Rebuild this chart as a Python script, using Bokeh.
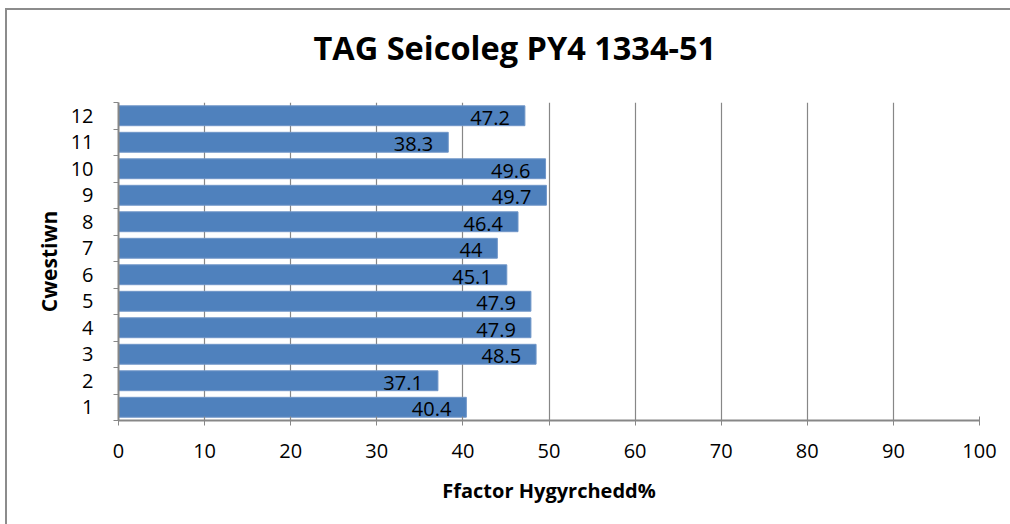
from bokeh.plotting import figure
from bokeh.models import ColumnDataSource, FixedTicker, Title, Range1d
from bokeh.core.properties import value
from bokeh.embed import file_html
from bokeh.resources import INLINE

questions = [1, 2, 3, 4, 5, 6, 7, 8, 9, 10, 11, 12]
facility = [40.4, 37.1, 48.5, 47.9, 47.9, 45.1, 44, 46.4, 49.7, 49.6, 38.3, 47.2]
labels = ["40.4", "37.1", "48.5", "47.9", "47.9", "45.1", "44", "46.4", "49.7", "49.6", "38.3", "47.2"]
x_ticks = [0, 10, 20, 30, 40, 50, 60, 70, 80, 90, 100]
title_text = "TAG Seicoleg PY4 1334-51"

FONT = "Open Sans"
GRID = "#878787"
EDGE = "#8c8c8c"

src = ColumnDataSource(dict(q=questions, v=facility, lab=labels))

p = figure(width=1005, height=540, output_backend="svg", toolbar_location=None,
           x_range=Range1d(0, 100), y_range=Range1d(0.5, 12.5),
           min_border_left=113, min_border_right=31, min_border_top=118, min_border_bottom=104)
# chart-area border (left and top edges) drawn behind a transparent canvas
p.styles = {
    "margin-left": "5px",
    "margin-top": "-16px",
    "background": (f"linear-gradient({EDGE},{EDGE}) 0px 24px / 100% 2px no-repeat, "
                   f"linear-gradient({EDGE},{EDGE}) 0px 24px / 2px 100% no-repeat"),
}
p.outline_line_color = None
p.background_fill_color = "white"
p.border_fill_color = None

p.title = Title(text=title_text, align="left", offset=195, vertical_align="bottom",
                text_font=FONT, text_font_size="32.5px", text_font_style="bold",
                text_color="black", standoff=66)

p.hbar(y="q", right="v", left=0, height=0.75, source=src,
       fill_color="#4F81BD", line_color="#7096C8", line_width=1)

p.text(x="v", y="q", text="lab", source=src, text_align="right", text_baseline="middle",
       x_offset=-15, y_offset=2, text_font=value(FONT), text_font_size="20px", text_color="black")

# x axis
xa = p.xaxis[0]
xa.ticker = FixedTicker(ticks=x_ticks, minor_ticks=[])
xa.axis_line_color = GRID
xa.axis_line_width = 2
xa.major_tick_line_color = GRID
xa.major_tick_in = 4
xa.major_tick_out = 5
xa.minor_tick_line_color = None
xa.major_label_text_font = FONT
xa.major_label_text_font_size = "20px"
xa.major_label_text_color = "black"
xa.major_label_standoff = 18
xa.axis_label = "Ffactor Hygyrchedd%"
xa.axis_label_text_font = FONT
xa.axis_label_text_font_size = "20px"
xa.axis_label_text_font_style = "bold"
xa.axis_label_text_color = "black"
xa.axis_label_standoff = 16

# y axis
ya = p.yaxis[0]
ya.ticker = FixedTicker(ticks=questions, minor_ticks=[q - 0.5 for q in questions] + [12.5])
ya.axis_line_color = GRID
ya.axis_line_width = 2
ya.major_tick_line_color = None
ya.major_tick_in = 0
ya.major_tick_out = 0
ya.minor_tick_line_color = GRID
ya.minor_tick_in = 0
ya.minor_tick_out = 5
ya.major_label_text_font = FONT
ya.major_label_text_font_size = "20px"
ya.major_label_text_color = "black"
ya.major_label_standoff = 20
ya.axis_label = "Cwestiwn"
ya.axis_label_text_font = FONT
ya.axis_label_text_font_size = "21px"
ya.axis_label_text_font_style = "bold"
ya.axis_label_text_color = "black"
ya.axis_label_standoff = 5

p.xgrid.grid_line_color = GRID
p.xgrid.grid_line_width = 1.2
p.ygrid.grid_line_color = None

open("out.html", "w").write(file_html(p, INLINE))
